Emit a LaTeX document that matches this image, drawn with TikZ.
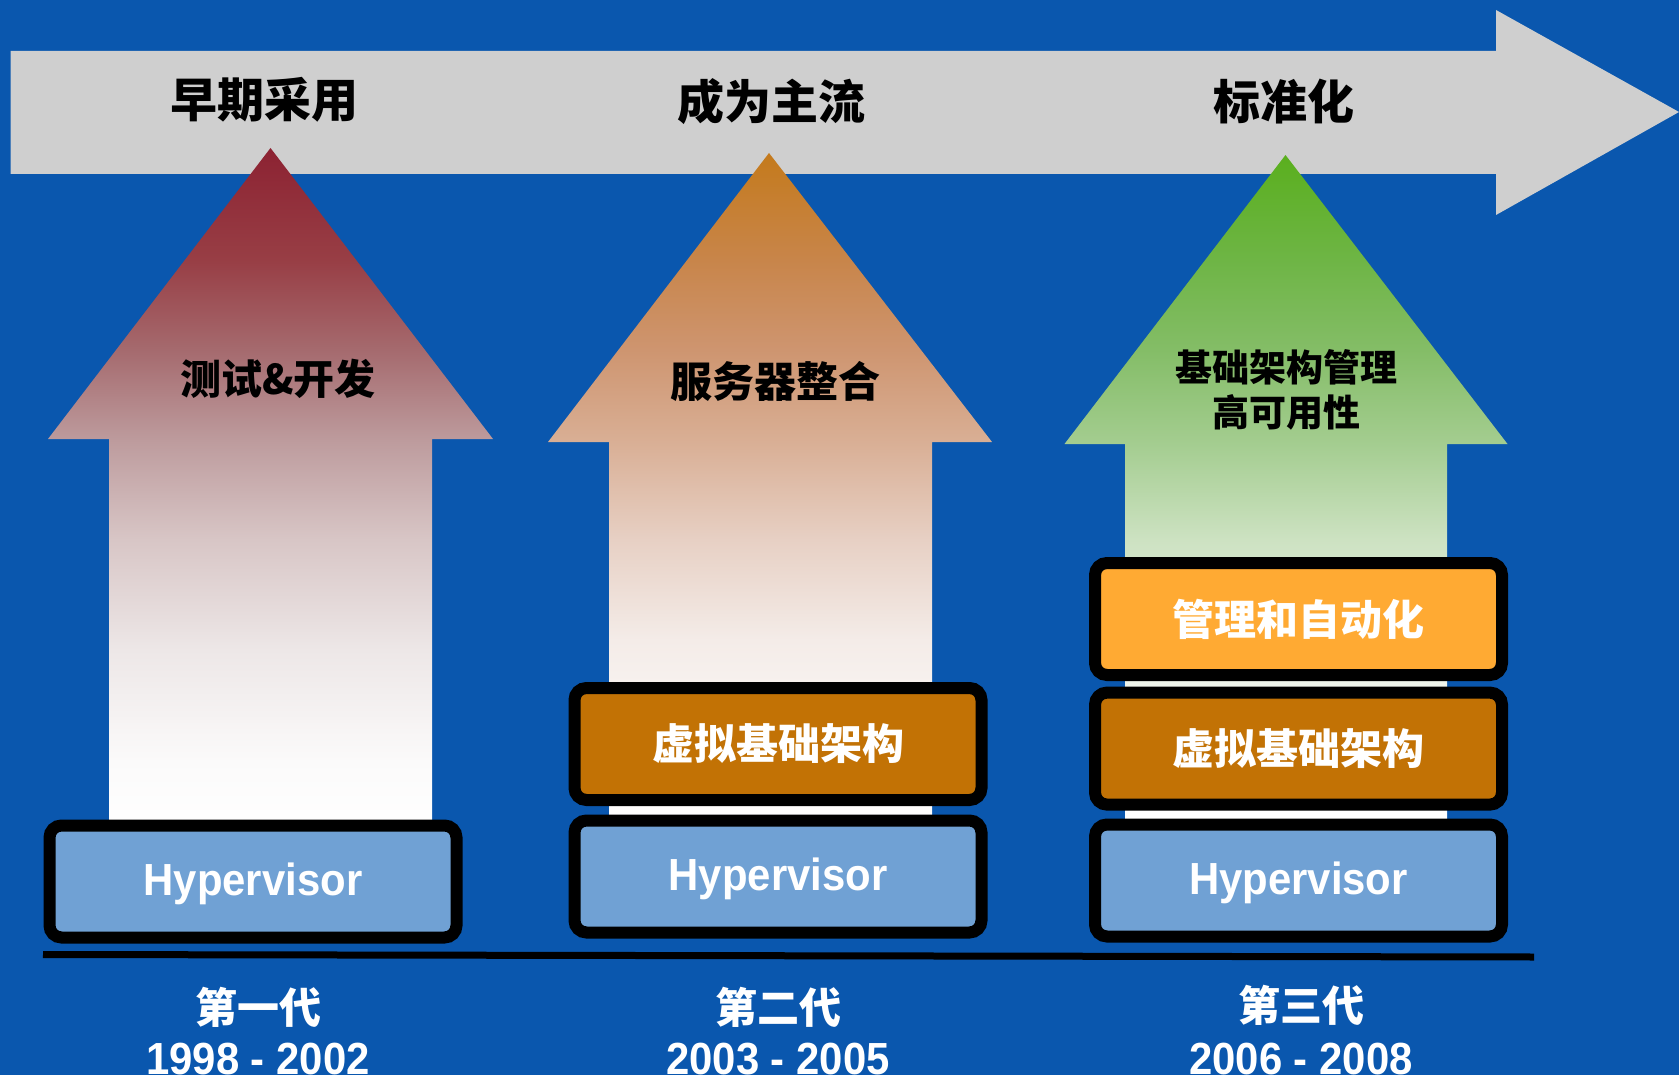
\documentclass[tikz,border=0pt]{standalone}
\usepackage{fontspec}
\newfontfamily\cjk{Noto Sans CJK SC}
\newfontfamily\narrow[FakeStretch=0.93]{Liberation Sans}
\definecolor{bgblue}{HTML}{0A57AE}
\definecolor{grayc}{HTML}{CFCFCF}
\definecolor{hypblue}{HTML}{70A1D4}
\definecolor{darkor}{HTML}{C27205}
\definecolor{brightor}{HTML}{FFAA33}
% arrow 1 colours
\definecolor{ra}{HTML}{8C2232}\definecolor{rb}{HTML}{983E45}\definecolor{rc}{HTML}{A56A6E}
\definecolor{rd}{HTML}{BD9B9D}\definecolor{re}{HTML}{D8C6C6}\definecolor{rf}{HTML}{EDE7E7}
\definecolor{rg}{HTML}{FBFAFA}
% arrow 2 colours
\definecolor{oa}{HTML}{C47A1C}\definecolor{ob}{HTML}{C8854A}\definecolor{oc}{HTML}{CE9570}
\definecolor{od}{HTML}{D9AF95}\definecolor{oe}{HTML}{E7D0C4}\definecolor{of}{HTML}{F4ECE8}
\definecolor{og}{HTML}{FCFAF9}
% arrow 3 colours
\definecolor{ga}{HTML}{5AAF1E}\definecolor{gb}{HTML}{6EB545}\definecolor{gc}{HTML}{84BD67}
\definecolor{gd}{HTML}{A4CD90}\definecolor{ge}{HTML}{CDE2C2}\definecolor{gf}{HTML}{E2EDDC}
\definecolor{gg}{HTML}{F2F6EF}
\pgfdeclareverticalshading{redshade}{100bp}{color(0bp)=(white); color(25bp)=(white);
  color(30.13bp)=(rg); color(38.2bp)=(rf); color(46.26bp)=(re); color(53.59bp)=(rd);
  color(60.19bp)=(rc); color(66.79bp)=(rb); color(75bp)=(ra); color(100bp)=(ra)}
\pgfdeclareverticalshading{orshade}{100bp}{color(0bp)=(white); color(25bp)=(white);
  color(30.17bp)=(og); color(39.03bp)=(of); color(46.42bp)=(oe); color(53.66bp)=(od);
  color(60.45bp)=(oc); color(67.1bp)=(ob); color(75bp)=(oa); color(100bp)=(oa)}
\pgfdeclareverticalshading{grshade}{100bp}{color(0bp)=(white); color(25bp)=(white);
  color(29.04bp)=(white); color(34.93bp)=(gg); color(40.81bp)=(gf); color(46.69bp)=(ge);
  color(53.75bp)=(gd); color(60.66bp)=(gc); color(67.28bp)=(gb); color(75bp)=(ga); color(100bp)=(ga)}
\begin{document}
\begin{tikzpicture}[x=1pt,y=-1pt,
  box/.style={draw=black, line width=12pt, rounded corners=12pt, inner sep=0pt,
    minimum width=407pt, minimum height=112pt, text=white},
  hyp/.style={box, fill=hypblue, font=\narrow\bfseries\fontsize{45}{50}\selectfont,
    text height=32pt, text depth=5pt},
  cjkbox/.style={box, font=\cjk\bfseries\fontsize{42}{46}\selectfont},
  head/.style={font=\cjk\bfseries\fontsize{47}{50}\selectfont, text=black, inner sep=0pt},
  alabel/.style={font=\cjk\bfseries\fontsize{41}{45}\selectfont, text=black, inner sep=0pt, align=center},
  gen/.style={font=\cjk\bfseries\fontsize{42}{46}\selectfont, text=white, inner sep=0pt},
  years/.style={font=\narrow\bfseries\fontsize{45}{50}\selectfont, text=white, inner sep=0pt, anchor=base}
]
\useasboundingbox (0,0) rectangle (1679,1075);
\fill[bgblue] (0,0) rectangle (1679,1075);
% big grey arrow
\fill[grayc] (10.7,51) -- (1496,51) -- (1496,10) -- (1679,112) -- (1496,215) -- (1496,174) -- (10.7,174) -- cycle;
% coloured arrows
\shade[shading=redshade] (270.5,148) -- (493,439) -- (432,439) -- (432,830) -- (109,830) -- (109,439) -- (48,439) -- cycle;
\shade[shading=orshade] (769,153) -- (992,442) -- (932,442) -- (932,830) -- (609,830) -- (609,442) -- (548,442) -- cycle;
\shade[shading=grshade] (1285.5,155) -- (1507.5,444) -- (1447,444) -- (1447,835) -- (1125,835) -- (1125,444) -- (1064.5,444) -- cycle;
% headers
\node[head] (t1) at (264,100) {早期采用};
\node[head] (t2) at (771,102) {成为主流};
\node[head] (t3) at (1284,102) {标准化};
% arrow labels
\node[alabel] (a1) at (278,379) {测试\&开发};
\node[alabel, font=\cjk\bfseries\fontsize{42}{45}\selectfont] (a2) at (775,381) {服务器整合};
\node[alabel, font=\cjk\bfseries\fontsize{37}{45}\selectfont] (a3) at (1286,390) {基础架构管理\\高可用性};
% boxes
\node[hyp] (h1) at (253,881.5) {Hypervisor};
\node[cjkbox, fill=darkor] (v2) at (778,744) {虚拟基础架构};
\node[hyp] (h2) at (778,876.5) {Hypervisor};
\node[cjkbox, fill=brightor] (m3) at (1298.5,619) {管理和自动化};
\node[cjkbox, fill=darkor] (v3) at (1298.5,748.6) {虚拟基础架构};
\node[hyp] (h3) at (1298.5,880.5) {Hypervisor};
% base line
\coordinate (l1) at (43,954.5);
\coordinate (l2) at (1534,957);
\draw[line width=7pt] (l1) -- (l2);
% generations
\node[gen] (g1) at (258,1007) {第一代};
\node[gen] (g2) at (778,1007) {第二代};
\node[gen] (g3) at (1301,1005) {第三代};
\node[years] (y1) at (258,1074) {1998 - 2002};
\node[years] (y2) at (778,1074) {2003 - 2005};
\node[years] (y3) at (1301,1074) {2006 - 2008};
\end{tikzpicture}
\end{document}
